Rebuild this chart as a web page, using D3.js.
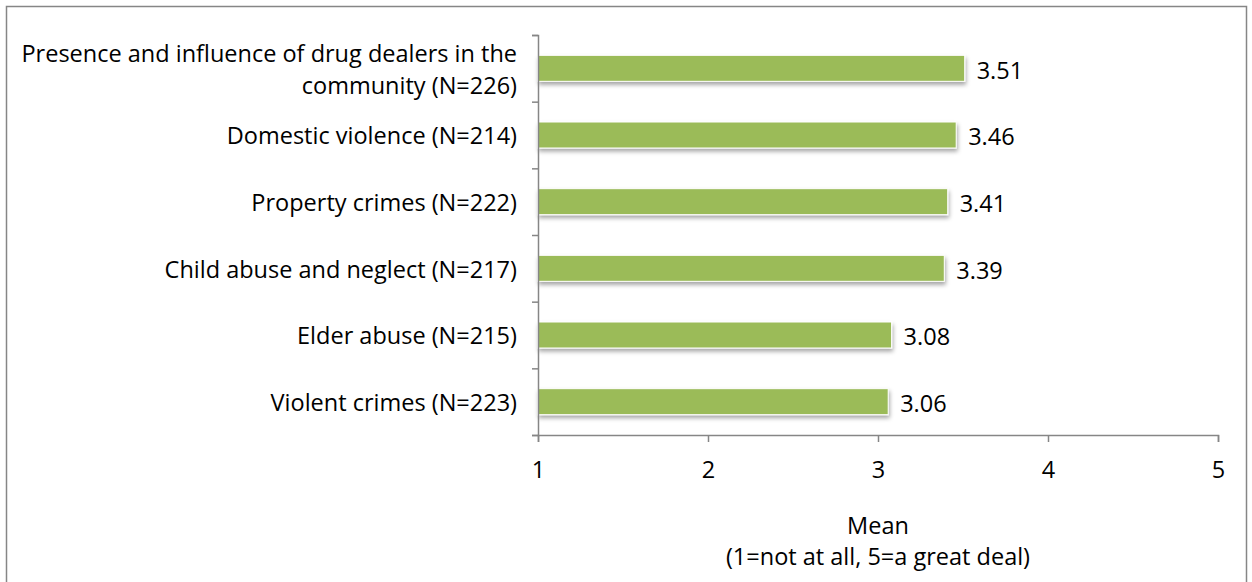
<!DOCTYPE html>
<html>
<head>
<meta charset="utf-8">
<script src="https://cdn.jsdelivr.net/npm/d3@7"></script>
<style>
  html, body { margin: 0; padding: 0; background: #fff; }
  svg { display: block; }
  text { font-family: "Open Sans", Lato, sans-serif; fill: #000; }
</style>
</head>
<body>
<div id="chart"></div>
<script>
// Concerns rated on a 1-5 scale, listed top to bottom
const categories = [
  ["Presence and influence of drug dealers in the", "community (N=226)"],
  ["Domestic violence (N=214)"],
  ["Property crimes (N=222)"],
  ["Child abuse and neglect (N=217)"],
  ["Elder abuse (N=215)"],
  ["Violent crimes (N=223)"]
];
const means = [3.51, 3.46, 3.41, 3.39, 3.08, 3.06];
const xTicks = [1, 2, 3, 4, 5];
const axisTitle = ["Mean", "(1=not at all, 5=a great deal)"];

const W = 1252, H = 582;
const FONT = 23.5;
const svg = d3.select("#chart").append("svg").attr("width", W).attr("height", H);

const defs = svg.append("defs");
const f = defs.append("filter").attr("id", "barShadow")
  .attr("x", "-5%").attr("y", "-40%").attr("width", "110%").attr("height", "200%");
f.append("feDropShadow").attr("dx", 1).attr("dy", 3).attr("stdDeviation", 2)
  .attr("flood-color", "#000").attr("flood-opacity", 0.35);

// outer frame
svg.append("rect").attr("x", 6.5).attr("y", 6.5).attr("width", 1240).attr("height", 600)
  .attr("fill", "none").attr("stroke", "#868686").attr("stroke-width", 1.5);

const x = d3.scaleLinear().domain([1, 5]).range([538, 1218]);
const idx = d3.range(categories.length);
const y = d3.scaleBand().domain(idx).range([35, 435]).padding(0);
const barH = y.bandwidth() * 0.39;

// bars
svg.append("g").selectAll("rect").data(means).join("rect")
  .attr("x", x(1))
  .attr("y", (d, i) => y(i) + (y.bandwidth() - barH) / 2)
  .attr("width", d => x(d) - x(1))
  .attr("height", barH)
  .attr("fill", "#9BBB59")
  .attr("stroke", "#fff").attr("stroke-width", 1)
  .attr("filter", "url(#barShadow)");

// value labels
svg.append("g").selectAll("text").data(means).join("text")
  .attr("x", d => x(d) + 12)
  .attr("y", (d, i) => y(i) + y.bandwidth() / 2 + 2)
  .attr("dy", "0.35em")
  .attr("font-size", FONT)
  .text(d => d.toFixed(2));

// x axis
const xAxis = svg.append("g").attr("transform", "translate(0,435)")
  .call(d3.axisBottom(x).tickValues(xTicks).tickSize(7).tickPadding(19).tickFormat(d3.format("d")));
xAxis.select(".domain").attr("stroke", "#868686").attr("stroke-width", 1.5);
xAxis.selectAll(".tick line").attr("stroke", "#868686").attr("stroke-width", 1.5);
xAxis.selectAll(".tick text").attr("font-size", FONT).attr("font-family", "'Open Sans', Lato, sans-serif").attr("fill", "#000");

// y axis with ticks at category boundaries
const yEdges = idx.map(i => y(i)).concat([y.range()[1]]);
const yLine = d3.scaleLinear().domain([35, 435]).range([35, 435]);
const yAxis = svg.append("g").attr("transform", `translate(${x(1)},0)`)
  .call(d3.axisLeft(yLine).tickValues(yEdges).tickSize(6).tickFormat(""));
yAxis.select(".domain").attr("stroke", "#868686").attr("stroke-width", 1.5);
yAxis.selectAll(".tick line").attr("stroke", "#868686").attr("stroke-width", 1.5);

// category labels (multi-line ones centred on their bar)
const lineH = 32;
const cat = svg.append("g").selectAll("text").data(categories).join("text")
  .attr("text-anchor", "end")
  .attr("font-size", FONT)
  .attr("y", (d, i) => y(i) + y.bandwidth() / 2 + 1 - (d.length - 1) * lineH / 2);
cat.selectAll("tspan").data(d => d).join("tspan")
  .attr("x", 517)
  .attr("dy", (d, j) => j === 0 ? "0.35em" : lineH)
  .text(d => d);

// axis title
svg.append("g").selectAll("text").data(axisTitle).join("text")
  .attr("x", x(3)).attr("text-anchor", "middle")
  .attr("y", (d, i) => 526 + i * 31).attr("dy", "0.35em")
  .attr("font-size", FONT)
  .text(d => d);
</script>
</body>
</html>
